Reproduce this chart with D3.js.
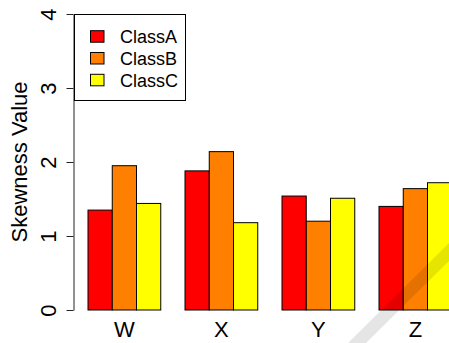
<!DOCTYPE html>
<html>
<head>
<meta charset="utf-8">
<script src="https://cdn.jsdelivr.net/npm/d3@7"></script>
<style>
  html, body { margin: 0; padding: 0; background: #fff; }
  svg { display: block; font-family: "Liberation Sans", Arial, sans-serif; }
</style>
</head>
<body>
<div id="chart"></div>
<script>
// data
const groups = ['W', 'X', 'Y', 'Z'];
const classes = ['ClassA', 'ClassB', 'ClassC'];
const classA = [1.35, 1.88, 1.54, 1.40];
const classB = [1.95, 2.14, 1.20, 1.64];
const classC = [1.44, 1.18, 1.51, 1.72];
const yTicks = [0, 1, 2, 3, 4];
const colors = ['#ff0000', '#ff7f00', '#ffff00'];

const series = [classA, classB, classC];

// size
const W = 449, H = 343;

const svg = d3.select('#chart').append('svg')
    .attr('width', W)
    .attr('height', H);

const y = d3.scaleLinear().domain([0, 4]).range([310, 14]);

const x = d3.scaleBand()
    .domain(groups)
    .range([88, 451.75])
    .paddingInner(0.25)
    .paddingOuter(0);

const xIn = d3.scaleBand()
    .domain(classes)
    .range([0, x.bandwidth()]);

// bars
const grp = svg.selectAll('g.grp')
    .data(groups)
    .enter().append('g')
    .attr('class', 'grp')
    .attr('transform', d => 'translate(' + x(d) + ',0)');

grp.selectAll('rect')
    .data((g, gi) => classes.map((c, ci) => ({c: c, ci: ci, v: series[ci][gi]})))
    .enter().append('rect')
    .attr('x', d => xIn(d.c))
    .attr('y', d => y(d.v))
    .attr('width', xIn.bandwidth())
    .attr('height', d => y(0) - y(d.v))
    .attr('fill', d => colors[d.ci])
    .attr('stroke', '#000')
    .attr('stroke-width', 1);

// faint watermark stripe
svg.append('polygon')
    .attr('points', '348,343 366,343 460,250 460,232')
    .attr('fill', '#000')
    .attr('opacity', 0.1);

// y axis
const yAxis = svg.append('g')
    .attr('transform', 'translate(73.5,0)')
    .call(d3.axisLeft(y).tickValues(yTicks).tickSize(7).tickSizeOuter(0).tickFormat(d3.format('d')));

yAxis.select('.domain').attr('stroke', '#222');
yAxis.selectAll('.tick line').attr('stroke', '#222');
yAxis.selectAll('.tick text')
    .attr('x', null)
    .attr('dy', null)
    .attr('text-anchor', 'middle')
    .attr('transform', 'translate(-17.5,0) rotate(-90)')
    .attr('font-size', 22)
    .attr('font-family', '"Liberation Sans", Arial, sans-serif')
    .attr('fill', '#000');

// x labels
svg.selectAll('text.xlab')
    .data(groups)
    .enter().append('text')
    .attr('class', 'xlab')
    .attr('x', d => x(d) + x.bandwidth() / 2)
    .attr('y', 337)
    .attr('text-anchor', 'middle')
    .attr('font-size', 22)
    .text(d => d);

// y title
svg.append('text')
    .attr('transform', 'translate(27,162) rotate(-90)')
    .attr('text-anchor', 'middle')
    .attr('font-size', 22)
    .text('Skewness Value');

// legend
const lg = svg.append('g');
lg.append('rect')
    .attr('x', 74.5).attr('y', 14.5)
    .attr('width', 111).attr('height', 86)
    .attr('fill', '#fff')
    .attr('stroke', '#000');

const items = lg.selectAll('g.item')
    .data(classes)
    .enter().append('g')
    .attr('class', 'item')
    .attr('transform', (d, i) => 'translate(0,' + (36.5 + i * 21.8) + ')');

items.append('rect')
    .attr('x', 90.5).attr('y', -5.8)
    .attr('width', 13.5).attr('height', 11.5)
    .attr('fill', (d, i) => colors[i])
    .attr('stroke', '#000');

items.append('text')
    .attr('x', 120)
    .attr('y', 6.5)
    .attr('font-size', 18)
    .text(d => d);
</script>
</body>
</html>
